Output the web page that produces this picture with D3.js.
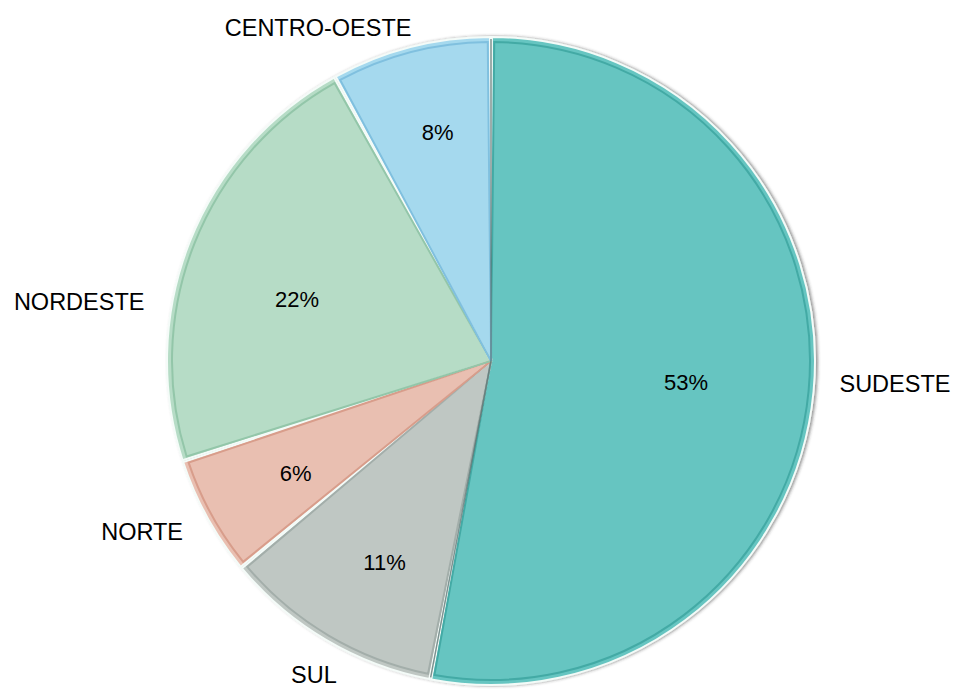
<!DOCTYPE html>
<html>
<head>
<meta charset="utf-8">
<script src="https://cdn.jsdelivr.net/npm/d3@7"></script>
<style>
  body { margin: 0; background: #fff; }
  svg text { font-family: "Liberation Sans", Arial, Helvetica, sans-serif; fill: #000; }
</style>
</head>
<body>
<div class="pieChart"></div>
<script>
// Data (clockwise from 12 o'clock)
var regions = ["SUDESTE", "SUL", "NORTE", "NORDESTE", "CENTRO-OESTE"];
var shares = [53, 11, 6, 22, 8];
var fills = ["#66c5c1", "#bfc7c3", "#e9bfb1", "#b6dcc6", "#a5d9ee"];
var edges = ["#43aaa5", "#a3aeaa", "#d89d8b", "#93c6a9", "#80c0df"];

// Small hand nudges so the labels sit where the original put them
var outerNudge = [[2, -10], [0, 14], [-3, 3], [-23, 69], [7, 4]];
var innerNudge = [[-19, 1], [3, 16], [-7, 9], [6, 17], [0, -20]];

function init() {
  var w = 953;
  var h = 689;
  var cx = 491;
  var cy = 361;
  var radius = 324;

  var svg = d3.select(".pieChart")
    .append("svg")
    .attr("width", w)
    .attr("height", h);

  // soft edge shadow
  var defs = svg.append("defs");
  var filter = defs.append("filter")
    .attr("id", "shade")
    .attr("x", "-10%").attr("y", "-10%")
    .attr("width", "120%").attr("height", "120%");
  filter.append("feDropShadow")
    .attr("dx", 2)
    .attr("dy", 0)
    .attr("stdDeviation", 1.5)
    .attr("flood-color", "#333")
    .attr("flood-opacity", 0.5);

  var data = regions.map(function (d, i) {
    return { name: d, value: shares[i], fill: fills[i], edge: edges[i], i: i };
  });

  var pie = d3.pie()
    .sort(null)
    .value(function (d) { return d.value; });
  var arcs = pie(data);

  var arc = d3.arc()
    .innerRadius(0)
    .outerRadius(radius)
    .padAngle(0.006)
    .padRadius(radius);
  var innerArc = d3.arc()
    .innerRadius(0)
    .outerRadius(radius - 5)
    .padAngle(0.02)
    .padRadius(radius);

  var g = svg.append("g")
    .attr("transform", "translate(" + cx + "," + cy + ")");

  // slices
  var slices = g.append("g").attr("filter", "url(#shade)");
  slices.selectAll(".slice")
    .data(arcs)
    .enter()
    .append("path")
    .attr("class", "slice")
    .attr("d", arc)
    .attr("fill", function (d) { return d.data.fill; })
    .attr("stroke", "#f4fbf8")
    .attr("stroke-width", 2);

  // inset border on each slice
  g.selectAll(".inset")
    .data(arcs)
    .enter()
    .append("path")
    .attr("class", "inset")
    .attr("d", innerArc)
    .attr("fill", "none")
    .attr("stroke", function (d) { return d.data.edge; })
    .attr("stroke-width", 2);

  // darker straight edges of the big slice
  var big = arcs[0];
  var lineEnd = d3.arc().innerRadius(radius - 2).outerRadius(radius - 2);
  [big.startAngle, big.endAngle].forEach(function (a) {
    var p = lineEnd.centroid({ startAngle: a, endAngle: a });
    g.append("line")
      .attr("x1", 0).attr("y1", 0)
      .attr("x2", p[0]).attr("y2", p[1])
      .attr("stroke", "#55706f")
      .attr("stroke-opacity", 0.75)
      .attr("stroke-width", 1.5);
  });

  // percentage labels
  var pctArc = d3.arc().innerRadius(215).outerRadius(215);
  g.selectAll(".pct")
    .data(arcs)
    .enter()
    .append("text")
    .attr("class", "pct")
    .attr("x", function (d) { return pctArc.centroid(d)[0] + innerNudge[d.data.i][0]; })
    .attr("y", function (d) { return pctArc.centroid(d)[1] + innerNudge[d.data.i][1]; })
    .attr("dy", "0.35em")
    .attr("text-anchor", "middle")
    .style("font-size", "22px")
    .text(function (d) { return d.data.value + "%"; });

  // region names outside the pie
  var labelArc = d3.arc().innerRadius(348).outerRadius(348);
  g.selectAll(".name")
    .data(arcs)
    .enter()
    .append("text")
    .attr("class", "name")
    .attr("x", function (d) { return labelArc.centroid(d)[0] + outerNudge[d.data.i][0]; })
    .attr("y", function (d) { return labelArc.centroid(d)[1] + outerNudge[d.data.i][1]; })
    .attr("dy", "0.35em")
    .attr("text-anchor", function (d) {
      var mid = (d.startAngle + d.endAngle) / 2;
      if (Math.sin(mid) > 0.3) return "start";
      if (Math.cos(mid) < -0.8) return "middle";
      return "end";
    })
    .style("font-size", "23.5px")
    .text(function (d) { return d.data.name; });
}
window.onload = init;
</script>
</body>
</html>
